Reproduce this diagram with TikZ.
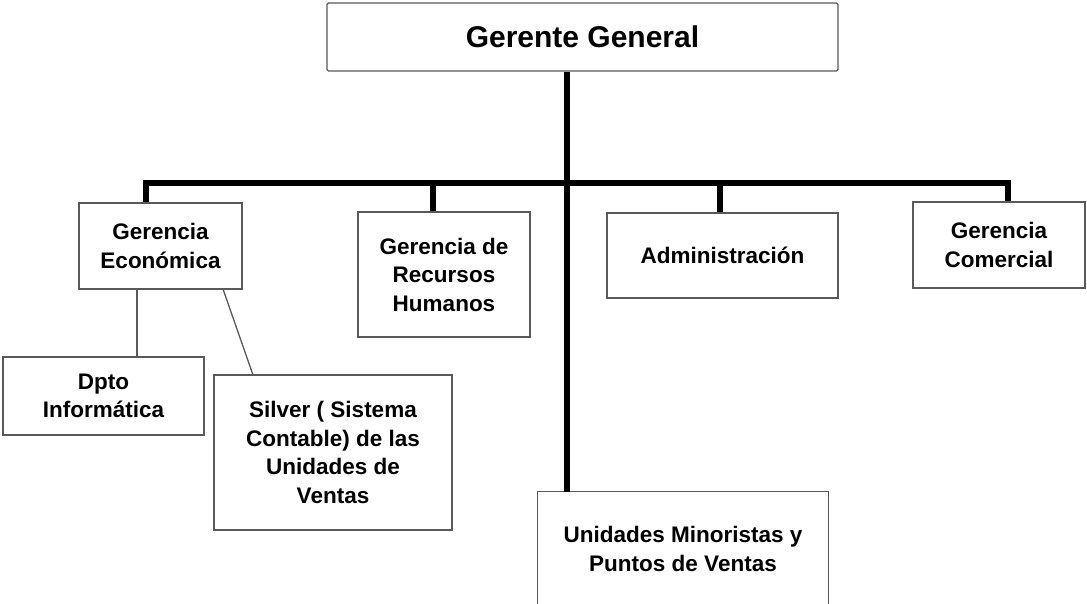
\documentclass[tikz,border=0pt]{standalone}
\usepackage{fontspec}
\setmainfont{Liberation Sans}
\begin{document}
\begin{tikzpicture}[x=1pt,y=-1pt,
  box/.style={draw=black!65,line width=1.3pt,fill=white,inner sep=0pt,align=center,
    font=\bfseries\fontsize{22.5}{28.5}\selectfont},
  trunk/.style={line width=5.5pt,black,line join=miter},
  thin/.style={line width=1.3pt,black!65}]
\useasboundingbox (0,0) rectangle (1087,604);
% boxes (centre positions, sizes in px)
\node[box,rounded corners=1.5pt,minimum width=511pt,minimum height=68pt,
  font=\bfseries\fontsize{30}{34}\selectfont] (gg) at (582.5,37) {Gerente General};
\node[box,minimum width=163pt,minimum height=86pt] (ge) at (160.5,246) {Gerencia\\Económica};
\node[box,minimum width=172pt,minimum height=125pt] (rh) at (444,274.5) {Gerencia de\\Recursos\\Humanos};
\node[box,minimum width=231pt,minimum height=85pt] (ad) at (722.5,255.5) {Administración};
\node[box,minimum width=172pt,minimum height=86pt] (gc) at (999,245) {Gerencia\\Comercial};
\node[box,minimum width=201pt,minimum height=78pt] (dp) at (103.5,396) {Dpto\\Informática};
\node[box,minimum width=238pt,minimum height=155pt] (sv) at (333,452.5) {Silver ( Sistema\\Contable) de las\\Unidades de\\Ventas};
\node[inner sep=0pt,align=center,minimum width=290pt,minimum height=114pt,
  font=\bfseries\fontsize{22.5}{28.5}\selectfont] (uv) at (683,549) {Unidades Minoristas y\\Puntos de Ventas};
\draw[draw=black!65,line width=1.3pt] (uv.south west) -- (uv.north west) -- (uv.north east) -- (uv.south east);
% junction points
\coordinate (jt) at (567,183);
\coordinate (j1) at (146,183);
\coordinate (j2) at (433,183);
\coordinate (j3) at (720,183);
\coordinate (j4) at (1008,183);
\coordinate (d1) at (137,0);
\coordinate (d2a) at (223,289);
\coordinate (d2b) at (253,375);
% thick connectors
\draw[trunk] (jt |- gg.south) -- (jt |- uv.north);
\draw[trunk] (j1 |- ge.north) -- (j1) -- (j4) -- (j4 |- gc.north);
\draw[trunk] (j2) -- (j2 |- rh.north);
\draw[trunk] (j3) -- (j3 |- ad.north);
% thin connectors
\draw[thin] (d1 |- ge.south) -- (d1 |- dp.north);
\draw[thin] (d2a) -- (d2b);
\end{tikzpicture}
\end{document}
